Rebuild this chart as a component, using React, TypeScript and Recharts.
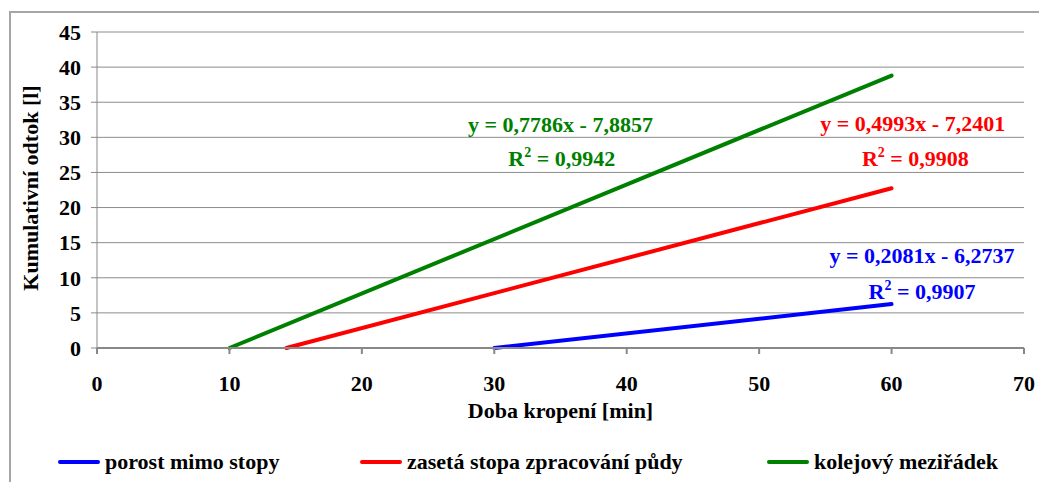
import { LineChart, Line, XAxis, YAxis, CartesianGrid, ReferenceDot } from 'recharts';

const xTicks = [0, 10, 20, 30, 40, 50, 60, 70];
const yTicks = [0, 5, 10, 15, 20, 25, 30, 35, 40, 45];

// trend lines (x = min, y = l)
const porostMimoStopy = [
  { x: 30, y: 0 },
  { x: 60, y: 6.25 },
];
const zasetaStopa = [
  { x: 14.3, y: 0 },
  { x: 60, y: 22.75 },
];
const kolejovyMeziradek = [
  { x: 10, y: 0 },
  { x: 60, y: 38.8 },
];

const seriesNames = ['porost mimo stopy', 'zasetá stopa zpracování půdy', 'kolejový meziřádek'];
const equationTexts = ['y = 0,2081x - 6,2737', 'y = 0,4993x - 7,2401', 'y = 0,7786x - 7,8857'];
const r2Texts = ['0,9907', '0,9908', '0,9942'];

// where the equation labels sit, in chart units
const equationAnchors = [
  { x: 62.3, y: 13.2 },
  { x: 61.6, y: 32.0 },
  { x: 35.0, y: 31.8 },
];
const r2Anchors = [
  { x: 62.3, y: 8.0 },
  { x: 61.8, y: 27.0 },
  { x: 35.1, y: 27.0 },
];

const colors = ['#0000ff', '#ff0000', '#008000'];
const FONT = "'Liberation Serif', 'Times New Roman', serif";

function EqText({ viewBox, text, color }: any) {
  return (
    <text
      x={viewBox.x}
      y={viewBox.y}
      dy="0.34em"
      textAnchor="middle"
      fill={color}
      fontFamily={FONT}
      fontWeight="bold"
      fontSize={22}
    >
      {text}
    </text>
  );
}

function R2Text({ viewBox, value, color }: any) {
  return (
    <text
      x={viewBox.x}
      y={viewBox.y}
      dy="0.34em"
      textAnchor="middle"
      fill={color}
      fontFamily={FONT}
      fontWeight="bold"
      fontSize={22}
    >
      <tspan>R</tspan>
      <tspan fontSize={14} dy={-9}>2</tspan>
      <tspan dy={9}>{` = ${value}`}</tspan>
    </text>
  );
}

function YTitle({ viewBox }: any) {
  const x = viewBox.x + 30;
  const y = viewBox.y + viewBox.height / 2 - 2;
  return (
    <text
      x={x}
      y={y}
      dy="0.36em"
      transform={`rotate(-90, ${x}, ${y})`}
      textAnchor="middle"
      fill="#000"
      fontFamily={FONT}
      fontWeight="bold"
      fontSize={22}
    >
      Kumulativní odtok [l]
    </text>
  );
}

const tickStyle = { fill: '#000', fontSize: 22, fontWeight: 'bold', fontFamily: FONT };

export default function App() {
  const series = [porostMimoStopy, zasetaStopa, kolejovyMeziradek];
  return (
    <div style={{ position: 'absolute', left: 0, top: 0, width: 1039, height: 482, overflow: 'hidden', background: '#fff' }}>
      <div
        style={{
          position: 'absolute',
          left: 9,
          top: 11,
          width: 1100,
          height: 600,
          borderLeft: '2px solid #a6a6a6',
          borderTop: '2px solid #a6a6a6',
        }}
      />
      <div style={{ position: 'absolute', left: 0, top: 0 }}>
        <LineChart width={1039} height={482} margin={{ top: 32, right: 15, left: 0, bottom: 0 }}>
          <CartesianGrid vertical={false} stroke="#8c8c8c" strokeWidth={1} horizontalValues={yTicks} />
          <XAxis
            type="number"
            dataKey="x"
            domain={[0, 70]}
            ticks={xTicks}
            height={134}
            stroke="#888"
            strokeWidth={2}
            tickSize={6}
            tickMargin={21}
            tick={tickStyle}
            label={{
              value: 'Doba kropení [min]',
              position: 'insideBottom',
              offset: 64,
              style: { fill: '#000', fontSize: 22, fontWeight: 'bold', fontFamily: FONT },
            }}
          />
          <XAxis xAxisId="top" orientation="top" type="number" domain={[0, 70]} height={0} tick={false} tickLine={false} stroke="#5a5a5a" strokeWidth={2} />
          <YAxis
            type="number"
            domain={[0, 45]}
            ticks={yTicks}
            width={97}
            stroke="#888"
            tickSize={6}
            tickMargin={10}
            tick={tickStyle}
            label={{ content: (p: any) => <YTitle viewBox={p.viewBox} /> }}
          />
          <YAxis yAxisId="right" orientation="right" domain={[0, 45]} width={0} tick={false} tickLine={false} stroke="#6a6a6a" strokeWidth={2} />
          {series.map((d, i) => (
            <Line
              key={seriesNames[i]}
              data={d}
              dataKey="y"
              name={seriesNames[i]}
              type="linear"
              stroke={colors[i]}
              strokeWidth={4}
              strokeLinecap="round"
              dot={false}
              activeDot={false}
              isAnimationActive={false}
            />
          ))}
          {equationAnchors.map((a, i) => (
            <ReferenceDot key={'eq' + i} x={a.x} y={a.y} r={0} stroke="none" fill="none" ifOverflow="visible" label={<EqText text={equationTexts[i]} color={colors[i]} />} />
          ))}
          {r2Anchors.map((a, i) => (
            <ReferenceDot key={'r2' + i} x={a.x} y={a.y} r={0} stroke="none" fill="none" ifOverflow="visible" label={<R2Text value={r2Texts[i]} color={colors[i]} />} />
          ))}
        </LineChart>
      </div>
      {/* legend */}
      {seriesNames.map((name, i) => (
        <div
          key={name}
          style={{
            position: 'absolute',
            left: [58, 360, 767][i],
            top: 447,
            height: 30,
            display: 'flex',
            alignItems: 'center',
            fontFamily: FONT,
            fontWeight: 'bold',
            fontSize: 22,
            color: '#000',
            whiteSpace: 'nowrap',
          }}
        >
          <span style={{ display: 'inline-block', width: 42, height: 4, borderRadius: 2, background: colors[i], marginRight: 5 }} />
          <span>{name}</span>
        </div>
      ))}
    </div>
  );
}
